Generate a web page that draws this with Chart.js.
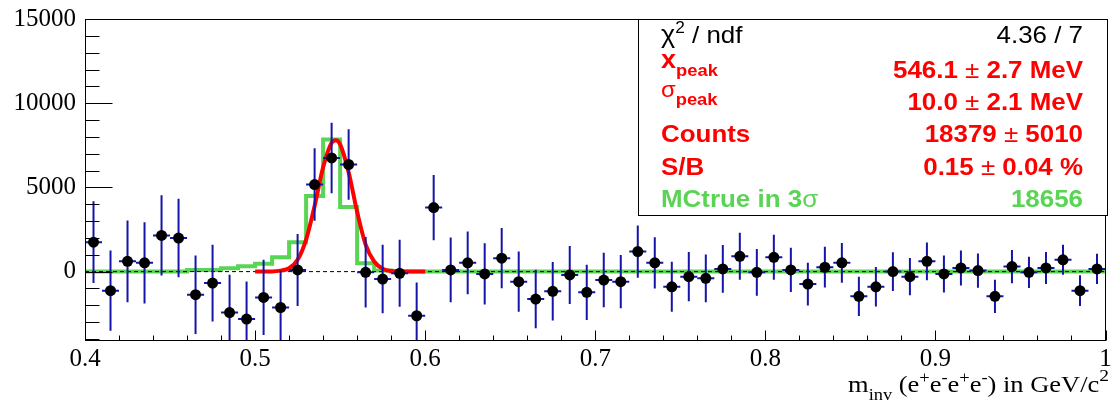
<!DOCTYPE html>
<html><head><meta charset="utf-8">
<script src="https://cdn.jsdelivr.net/npm/chart.js@4.4.1/dist/chart.umd.min.js"></script>
<style>html,body{margin:0;padding:0;background:#fff;overflow:hidden}canvas{display:block}</style>
</head><body>
<canvas id="c" width="1111" height="404"></canvas>
<script>
// ---- data ----
const binCenters = [0.405,0.415,0.425,0.435,0.445,0.455,0.465,0.475,0.485,0.495,
  0.505,0.515,0.525,0.535,0.545,0.555,0.565,0.575,0.585,0.595,
  0.605,0.615,0.625,0.635,0.645,0.655,0.665,0.675,0.685,0.695,
  0.705,0.715,0.725,0.735,0.745,0.755,0.765,0.775,0.785,0.795,
  0.805,0.815,0.825,0.835,0.845,0.855,0.865,0.875,0.885,0.895,
  0.905,0.915,0.925,0.935,0.945,0.955,0.965,0.975,0.985,0.995];
const binHalfWidth = 0.005;
const counts = [1750,-1130,610,520,2150,1990,-1370,-680,-2430,-2820,
  -1530,-2130,100,5170,6750,6360,-40,-440,-100,-2620,
  3800,100,520,-140,800,-600,-1630,-1170,-200,-1230,
  -500,-600,1190,520,-900,-300,-400,160,910,-40,
  850,100,-740,260,520,-1470,-900,0,-300,610,
  -140,220,60,-1470,300,-40,220,700,-1130,160];
const errors = [2430,2380,2430,2410,2380,2330,2330,2280,2250,2230,
  2230,2180,2140,2150,2090,2100,2090,2030,1990,1970,
  1940,1920,1860,1820,1790,1790,1740,1740,1720,1640,
  1620,1580,1550,1520,1490,1460,1420,1420,1400,1390,
  1340,1310,1270,1210,1180,1170,1170,1150,1110,1120,
  1100,1040,1020,980,990,930,950,890,910,900];
const mcTrue = [0,0,0,0,0,0,100,100,200,320,
  460,850,1750,4490,7850,3830,500,60,0,0,
  0,0,0,0,0,0,0,0,0,0,
  0,0,0,0,0,0,0,0,0,0,
  0,0,0,0,0,0,0,0,0,0,
  0,0,0,0,0,0,0,0,0,0];
const fitX = [0.50,0.51,0.515,0.52,0.525,0.53,0.535,0.54,0.545,0.5475,0.55,0.555,0.56,0.565,0.57,0.575,0.58,0.59,0.60];
const fitY = [0,10,60,200,700,1900,3900,6200,7650,7800,7550,5900,3550,1600,600,170,40,0,0];
const xTicks = [0.4,0.5,0.6,0.7,0.8,0.9,1.0];
const xTickLabels = ["0.4","0.5","0.6","0.7","0.8","0.9","1"];
const yTicks = [0,5000,10000,15000];

// ---- styles ----
const RED = '#ff0000', GREEN = '#59d454', ERR = '#1414a8';
const SANS = '"Liberation Sans", Arial, sans-serif';
const SERIF = '"Liberation Serif", "Times New Roman", serif';

function drawRich(ctx, segs, x, base, align, sx, color) {
  ctx.save();
  ctx.fillStyle = color;
  ctx.textBaseline = 'alphabetic';
  ctx.textAlign = 'left';
  let total = 0;
  const ws = segs.map(s => { ctx.font = (s.bold ? 'bold ' : '') + s.size + 'px ' + (s.family || SANS); const w = ctx.measureText(s.t).width; total += w; return w; });
  ctx.translate(x, base);
  ctx.scale(sx, 1);
  let cx = align === 'right' ? -total : 0;
  segs.forEach((s, i) => {
    ctx.font = (s.bold ? 'bold ' : '') + s.size + 'px ' + (s.family || SANS);
    ctx.fillText(s.t, cx, s.dy || 0);
    cx += ws[i];
  });
  ctx.restore();
}

const errorBars = {
  id: 'errorBars',
  beforeDatasetDraw(chart, args) {
    if (args.index !== 0) return;
    const {ctx, chartArea: a, scales: {x, y}} = chart;
    ctx.save();
    ctx.beginPath(); ctx.rect(a.left, a.top, a.right - a.left, a.bottom - a.top); ctx.clip();
    ctx.strokeStyle = ERR; ctx.lineWidth = 2;
    binCenters.forEach((c, i) => {
      const px = x.getPixelForValue(c), py = y.getPixelForValue(counts[i]);
      ctx.beginPath();
      ctx.moveTo(px, y.getPixelForValue(counts[i] + errors[i]));
      ctx.lineTo(px, y.getPixelForValue(counts[i] - errors[i]));
      ctx.moveTo(x.getPixelForValue(c - binHalfWidth), py);
      ctx.lineTo(x.getPixelForValue(c + binHalfWidth), py);
      ctx.stroke();
    });
    ctx.restore();
  }
};

const frameTicks = {
  id: 'frameTicks',
  afterDatasetsDraw(chart) {
    const {ctx, chartArea: a, scales: {x, y}} = chart;
    ctx.save();
    ctx.strokeStyle = '#000'; ctx.lineWidth = 1;
    const L = Math.round(a.left) + 0.5, R = Math.round(a.right) - 0.5, T = Math.round(a.top) + 0.5, B = Math.round(a.bottom) - 0.5;
    ctx.strokeRect(L, T, R - L, B - T);
    ctx.beginPath();
    for (let v = -4000; v <= 15000; v += 1000) {
      const py = Math.round(y.getPixelForValue(v)) + 0.5;
      if (py > B || py < T) continue;
      const len = v % 5000 === 0 ? 27 : 14;
      ctx.moveTo(L, py); ctx.lineTo(L + len, py);
    }
    for (let i = 0; i <= 30; i++) {
      const v = 0.4 + 0.02 * i;
      const px = Math.round(x.getPixelForValue(v)) + 0.5;
      const len = i % 5 === 0 ? 10 : 5;
      ctx.moveTo(px, B); ctx.lineTo(px, B - len);
    }
    ctx.stroke();
    ctx.restore();
  },
  afterDraw(chart) {
    const ctx = chart.ctx;
    // stats box
    ctx.save();
    ctx.fillStyle = '#fff';
    ctx.fillRect(638, 19, 470, 196);
    ctx.strokeStyle = '#000'; ctx.lineWidth = 1;
    ctx.strokeRect(638.5, 19.5, 469, 196);
    ctx.restore();
    const sx = 1.08, LX = 661, RX = 1083;
    const B = (t, size) => ({t, size: size || 24, bold: true});
    const N = (t, size, dy) => ({t, size: size || 24, bold: false, dy: dy || 0});
    drawRich(ctx, [N('\u03c7', 25), N('2', 16, -10), N(' / ndf', 24)], LX, 42.5, 'left', sx, '#000');
    drawRich(ctx, [N('4.36 / 7', 24)], RX, 42.5, 'right', sx, '#000');
    drawRich(ctx, [{t: 'x', size: 25, bold: true, dy: -10}, {t: 'peak', size: 17, bold: true, dy: -2}], LX, 78, 'left', sx, RED);
    drawRich(ctx, [B('546.1 '), N('\u00b1'), B(' 2.7 MeV')], RX, 78, 'right', sx, RED);
    drawRich(ctx, [{t: '\u03c3', size: 22, bold: false, dy: -13}, {t: 'peak', size: 17, bold: true, dy: -5.5}], LX, 110, 'left', sx, RED);
    drawRich(ctx, [B('10.0 '), N('\u00b1'), B(' 2.1 MeV')], RX, 110, 'right', sx, RED);
    drawRich(ctx, [B('Counts')], LX, 141.7, 'left', sx, RED);
    drawRich(ctx, [B('18379 '), N('\u00b1'), B(' 5010')], RX, 141.7, 'right', sx, RED);
    drawRich(ctx, [B('S/B')], LX, 175, 'left', sx, RED);
    drawRich(ctx, [B('0.15 '), N('\u00b1'), B(' 0.04 %')], RX, 175, 'right', sx, RED);
    drawRich(ctx, [B('MCtrue in 3'), N('\u03c3')], LX, 206.7, 'left', sx, GREEN);
    drawRich(ctx, [B('18656')], RX, 206.7, 'right', sx, GREEN);
    // x axis title
    const S = (t, size, dy) => ({t, size, dy: dy || 0, family: SERIF});
    drawRich(ctx, [S('m', 23), S('inv', 16, 8), S(' (e', 23), S('+', 16, -9), S('e', 23), S('-', 16, -9), S('e', 23), S('+', 16, -9), S('e', 23), S('-', 16, -9), S(') in GeV/c', 23), S('2', 17, -11)], 1109, 391.5, 'right', 1.15, '#000');
  }
};

const pointData = binCenters.map((c, i) => ({x: c, y: counts[i]}));
const mcData = binCenters.map((c, i) => ({x: c - binHalfWidth, y: mcTrue[i]}));
mcData.push({x: binCenters[binCenters.length - 1] + binHalfWidth, y: mcTrue[mcTrue.length - 1]});
const fitData = fitX.map((v, i) => ({x: v, y: fitY[i]}));
const zeroData = [{x: xTicks[0], y: 0}, {x: xTicks[xTicks.length - 1], y: 0}];

new Chart(document.getElementById('c'), {
  type: 'scatter',
  data: {
    datasets: [
      {label: 'data', data: pointData, order: 0, pointRadius: 5.5, pointBackgroundColor: '#000', pointBorderColor: '#000', pointBorderWidth: 0, showLine: false},
      {label: 'fit', data: fitData, order: 1, showLine: true, pointRadius: 0, borderColor: RED, borderWidth: 4, cubicInterpolationMode: 'monotone', fill: false},
      {label: 'zero', data: zeroData, order: 2, showLine: true, pointRadius: 0, borderColor: '#000', borderWidth: 1, borderDash: [4, 3], fill: false},
      {label: 'MC true', data: mcData, order: 3, showLine: true, stepped: 'before', pointRadius: 0, borderColor: GREEN, borderWidth: 4, fill: false}
    ]
  },
  options: {
    responsive: false,
    devicePixelRatio: 1,
    animation: false,
    events: [],
    layout: {padding: {top: 19, right: 3, left: 0, bottom: 0}},
    plugins: {legend: {display: false}, tooltip: {enabled: false}, title: {display: false}},
    scales: {
      x: {
        type: 'linear', min: 0.4, max: 1.0,
        afterBuildTicks: s => { s.ticks = xTicks.map(v => ({value: v})); },
        afterFit: s => { s.height = 63; s.paddingLeft = 0; s.paddingRight = 0; },
        grid: {display: false, drawTicks: false}, border: {display: false},
        ticks: {autoSkip: false, maxRotation: 0, padding: 3, color: '#000', font: {family: SERIF, size: 25},
          callback: (v, i) => xTickLabels[i]}
      },
      y: {
        type: 'linear', min: -4120, max: 15000,
        afterBuildTicks: s => { s.ticks = yTicks.map(v => ({value: v})); },
        afterFit: s => { s.width = 85; s.paddingTop = 0; s.paddingBottom = 0; },
        grid: {display: false, drawTicks: false}, border: {display: false},
        ticks: {padding: 9, color: '#000', font: {family: SERIF, size: 25}, callback: v => String(v)}
      }
    }
  },
  plugins: [errorBars, frameTicks]
});
</script>
</body></html>
